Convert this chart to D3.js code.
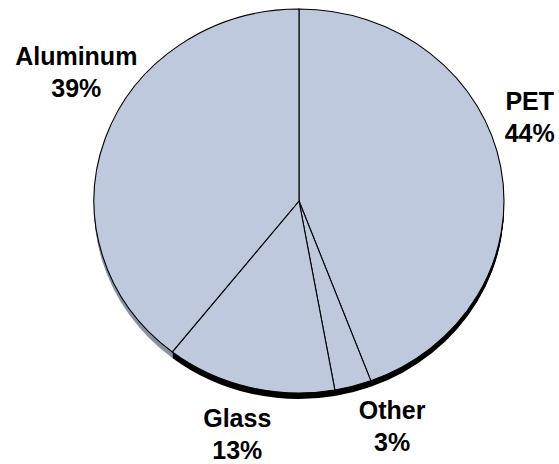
<!DOCTYPE html>
<html lang="en">
<head>
    <meta charset="utf-8">
    <title>Container share</title>
    <style>
    html, body {
        margin: 0;
        background-color: white;
    }

    svg {
        display: block;
        background-color: white;
    }

    .label {
        font-family: 'Liberation Sans', Arial, Helvetica, sans-serif;
        font-weight: bold;
        font-size: 25px;
        fill: black;
    }

    .top-face path {
        stroke: black;
        stroke-width: 1.1px;
        vector-effect: non-scaling-stroke;
    }
    </style>
</head>
<body>
    <div id="vis"></div>

    <script src="https://d3js.org/d3.v7.min.js"></script>
    <script>
// slice order is clockwise from 12 o'clock
var categories = ['PET', 'Other', 'Glass', 'Aluminum'];
var shares = [44.3, 2.9, 13.4, 39.4];
var shareLabels = ['44%', '3%', '13%', '39%'];

var width = 559;
var height = 464;

var cx = 299;
var cy = 201;
var rx = 205;
var ry = 192;
var depth = 6;

var topColor = '#bfc9de';
var sideColors = ['#000000', '#000000', '#000000', '#8a93a4'];

// label nudges from the rim point at the slice's middle angle
var labelShift = [[29, -57], [39, 33], [-12, 40], [-29, -73]];

var svg = d3.select('#vis')
    .append('svg')
    .attr('width', width)
    .attr('height', height);

var data = categories.map(function(c, i) {
    return { name: c, value: shares[i], label: shareLabels[i], index: i };
});

var pie = d3.pie()
    .sort(null)
    .value(function(d) { return d.value; });

var arcs = pie(data);

var arc = d3.arc()
    .innerRadius(0)
    .outerRadius(rx);

// side of the pie: stacked copies pushed down
for (var k = depth; k >= 1; k--) {
    svg.append('g')
        .attr('transform', 'translate(' + cx + ',' + (cy + k) + ') scale(1,' + (ry / rx) + ')')
        .selectAll('path')
        .data(arcs)
        .enter()
        .append('path')
        .attr('d', arc)
        .attr('fill', function(d) { return sideColors[d.data.index]; });
}

var topFace = svg.append('g')
    .attr('class', 'top-face')
    .attr('transform', 'translate(' + cx + ',' + cy + ') scale(1,' + (ry / rx) + ')');

topFace.selectAll('path')
    .data(arcs)
    .enter()
    .append('path')
    .attr('d', arc)
    .attr('fill', topColor);

var labels = svg.selectAll('.label')
    .data(arcs)
    .enter()
    .append('text')
    .attr('class', 'label')
    .attr('text-anchor', 'middle')
    .attr('transform', function(d) {
        var a = (d.startAngle + d.endAngle) / 2;
        var s = labelShift[d.data.index];
        var x = cx + rx * Math.sin(a) + s[0];
        var y = cy - ry * Math.cos(a) + s[1];
        return 'translate(' + x + ',' + y + ')';
    });

labels.append('tspan')
    .attr('x', 0)
    .attr('y', 0)
    .text(function(d) { return d.data.name; });

labels.append('tspan')
    .attr('x', 0)
    .attr('y', 32)
    .text(function(d) { return d.data.label; });
    </script>
</body>
</html>
